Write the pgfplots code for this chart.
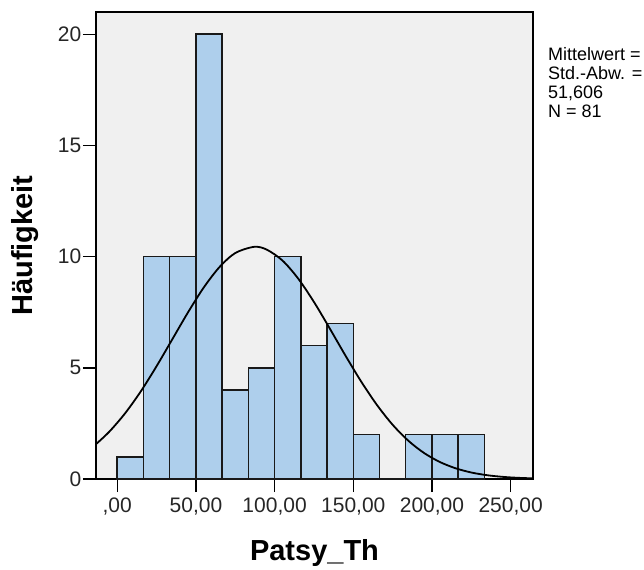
\documentclass[border=0pt]{standalone}
\usepackage{fontspec}
\setmainfont{Liberation Sans}
\usepackage{pgfplots}
\pgfplotsset{compat=1.18}
\definecolor{bggray}{RGB}{240,240,240}
\definecolor{barblue}{RGB}{174,207,236}
\begin{document}
\begin{tikzpicture}
\path[use as bounding box] (-96bp,-91bp) rectangle (548bp,479bp);
\begin{axis}[
 scale only axis, width=437bp, height=467bp,
 xmin=-13.5, xmax=264.2, ymin=0, ymax=21,
 axis background/.style={fill=bggray},
 axis line style={black, line width=1.4bp},
 xtick={0,50,100,150,200,250},
 xticklabels={{,00},{50,00},{100,00},{150,00},{200,00},{250,00}},
 ytick={0,5,10,15,20},
 xtick pos=bottom, ytick pos=left,
 tick align=outside, major tick length=13bp,
 tick style={black, line width=1.4bp},
 /pgf/number format/assume math mode=true,
 ticklabel style={font=\fontsize{21bp}{25bp}\selectfont, text=black!85},
 yticklabel style={inner sep=1.5bp},
 xticklabel style={yshift=-2bp},
 xlabel={Patsy\_Th}, ylabel={Häufigkeit},
 label style={font=\bfseries\fontsize{29bp}{34bp}\selectfont},
 xlabel style={at={(axis description cs:0.5,-0.1735)}, anchor=base},
 ylabel style={at={(axis description cs:-0.1442,0.5)}, anchor=base},
 clip=false,
]
\addplot[ybar interval, fill=barblue, draw=black!90, line width=1.5bp] coordinates {
 (0,1) (16.667,10) (33.333,10) (50,20) (66.667,4) (83.333,5) (100,10)
 (116.667,6) (133.333,7) (150,2) (166.667,0) (183.333,2) (200,2) (216.667,2) (233.333,0)
};
\addplot[smooth, black, line width=1.8bp] coordinates {
 (-13.5,1.567) (-5,2.131) (5,2.955) (15,3.944) (25,5.073) (35,6.284) (45,7.497)
 (55,8.614) (65,9.533) (75,10.161) (87,10.44) (95,10.315) (105,9.824) (115,9.011)
 (125,7.961) (135,6.774) (145,5.552) (155,4.383) (165,3.332) (175,2.439) (185,1.720)
 (195,1.168) (205,0.765) (215,0.482) (225,0.292) (235,0.171) (245,0.096) (255,0.052) (264.2,0.029)
};
\node[anchor=north west, align=left, inner sep=0pt, font=\fontsize{18bp}{19bp}\selectfont]
 at (axis description cs:1.0343,0.925) {Mittelwert =\\Std.-Abw. =\\51,606\\N = 81};
\end{axis}
\end{tikzpicture}
\end{document}
